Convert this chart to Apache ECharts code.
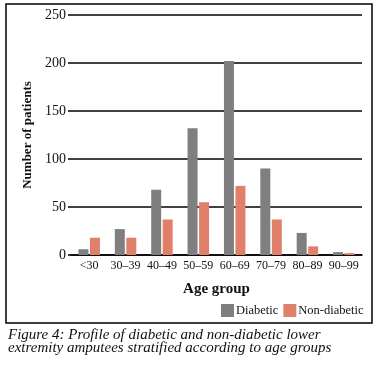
<!DOCTYPE html>
<html>
<head>
<meta charset="utf-8">
<script src="https://cdn.jsdelivr.net/npm/echarts@6/dist/echarts.min.js"></script>
<style>
  html, body { margin: 0; padding: 0; background: #fff; }
  #chart { width: 379px; height: 370px; }
</style>
</head>
<body>
<div id="chart"></div>
<script>
  // age groups and patient counts
  var ageGroups = ['<30', '30–39', '40–49', '50–59', '60–69', '70–79', '80–89', '90–99']
  var diabetic = [6, 27, 68, 132, 202, 90, 23, 3]
  var nonDiabetic = [18, 18, 37, 55, 72, 37, 9, 2]
  var captionLines = [
    'Figure 4: Profile of diabetic and non-diabetic lower',
    'extremity amputees stratified according to age groups'
  ]

  var serif = 'Liberation Serif'
  var myChart = echarts.init(document.getElementById('chart'))
  var option = {
    animation: false,
    textStyle: { fontFamily: serif },
    grid: { left: 71, right: 17, top: 15, bottom: 115 },
    legend: {
      data: ['Diabetic', 'Non-diabetic'],
      orient: 'horizontal',
      left: 221,
      top: 304,
      width: 158,
      padding: 0,
      itemWidth: 13,
      itemHeight: 13,
      itemGap: 5,
      icon: 'rect',
      formatter: function (name) { return '{t|' + name + '}' },
      textStyle: {
        fontFamily: serif,
        fontSize: 12.5,
        color: '#111',
        rich: { t: { fontFamily: serif, fontSize: 12.5, color: '#111', padding: [1, 0, 0, -3] } }
      }
    },
    xAxis: {
      type: 'category',
      data: ageGroups,
      name: 'Age group',
      nameLocation: 'middle',
      nameGap: 27,
      nameTextStyle: { fontFamily: serif, fontSize: 15, fontWeight: 'bold', color: '#111' },
      axisTick: { show: false },
      axisLine: { lineStyle: { color: '#000', width: 1.5 } },
      axisLabel: { fontFamily: serif, fontSize: 12, color: '#111', margin: 5, interval: 0 }
    },
    yAxis: {
      type: 'value',
      min: 0,
      max: 250,
      interval: 50,
      name: 'Number of patients',
      nameLocation: 'middle',
      nameGap: 37,
      nameTextStyle: { fontFamily: serif, fontSize: 13, fontWeight: 'bold', color: '#111' },
      axisLine: { show: false },
      axisTick: { show: true, length: 3, lineStyle: { color: '#000', width: 1.5 } },
      splitLine: { lineStyle: { color: '#000', width: 1.5 } },
      axisLabel: { fontFamily: serif, fontSize: 14, color: '#111', margin: 5 }
    },
    series: [
      {
        name: 'Diabetic',
        type: 'bar',
        data: diabetic,
        barWidth: 10,
        barGap: '15%',
        itemStyle: { color: '#7f7f82' }
      },
      {
        name: 'Non-diabetic',
        type: 'bar',
        data: nonDiabetic,
        barWidth: 10,
        itemStyle: { color: '#e0806a' }
      }
    ],
    graphic: [
      {
        type: 'rect',
        shape: { x: 6, y: 4, width: 366, height: 319 },
        style: { fill: 'none', stroke: '#000', lineWidth: 1.5 },
        silent: true
      },
      {
        type: 'text',
        left: 8,
        top: 328,
        style: {
          text: captionLines.join('\n'),
          font: 'italic 15px "Liberation Serif"',
          lineHeight: 13,
          fill: '#111'
        }
      }
    ]
  }
  myChart.setOption(option)
</script>
</body>
</html>
